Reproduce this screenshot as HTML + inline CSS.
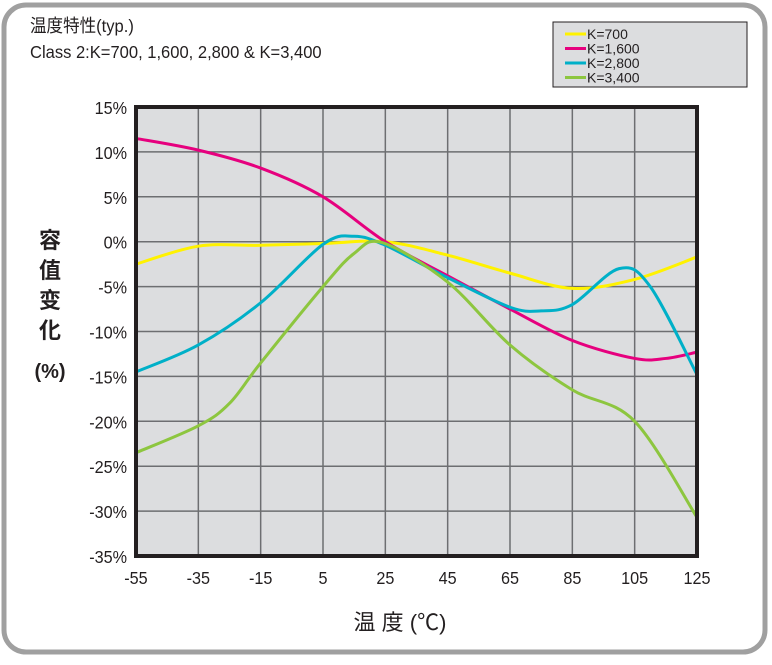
<!DOCTYPE html>
<html><head><meta charset="utf-8"><style>
body{margin:0;background:#fff;width:772px;height:660px;overflow:hidden;font-family:"Liberation Sans","Noto Sans CJK JP",sans-serif;}
</style></head><body>
<svg width="772" height="660" xmlns="http://www.w3.org/2000/svg" id="chart">
<rect x="4" y="5" width="761" height="647" rx="22" fill="#fff" stroke="#a0a0a0" stroke-width="5"/>
<text x="30" y="32" font-size="18" fill="#231f20" transform="translate(30,0) scale(0.92,1) translate(-30,0)">温度特性(typ.)</text>
<text x="30" y="58" font-size="18" fill="#231f20" transform="translate(30,0) scale(0.92,1) translate(-30,0)">Class 2:K=700, 1,600,  2,800 &amp; K=3,400</text>
<rect x="136" y="107" width="561" height="449" fill="#dcdddf"/>
<g id="grid"></g>
<g id="series"></g>
<rect x="136" y="107" width="561" height="449" fill="none" stroke="#231f20" stroke-width="4"/>
<g id="yticks"></g>
<g id="xticks"></g>
<g font-size="22" font-weight="bold" fill="#231f20" text-anchor="middle">
<text x="50" y="248">容</text><text x="50" y="278">值</text><text x="50" y="308">变</text><text x="50" y="338">化</text><text x="50" y="378" font-size="20">(%)</text>
</g>
<text x="400" y="630" font-size="22" text-anchor="middle" fill="#231f20">温 度 (℃)</text>
<g>
<rect x="553" y="22" width="194" height="65" fill="#dcdddf" stroke="#231f20" stroke-width="1"/>
<g id="legend-items"></g>
</g>
</svg>
<script>
const xTicks=[-55,-35,-15,5,25,45,65,85,105,125];
const yTicks=[15,10,5,0,-5,-10,-15,-20,-25,-30,-35];
const seriesNames=["K=700","K=1,600","K=2,800","K=3,400"];
const seriesColors=["#fff200","#e6007e","#00b0c8","#8dc63f"];
const k700T=[-55,-35,-15,5,25,45,65,85,105,125];
const k700V=[-2.5,-0.5,-0.4,-0.2,0,-1.5,-3.5,-5.2,-4.2,-1.7];
const k1600T=[-55,-35,-15,5,25,45,65,85,105,115,125];
const k1600V=[11.5,10.2,8.2,5,0,-3.8,-7.5,-11,-13,-13,-12.3];
const k2800T=[-55,-35,-15,5,15,25,45,65,75,85,100,110,125];
const k2800V=[-14.5,-11.5,-6.8,-0.3,0.6,-0.4,-4,-7.3,-7.7,-7,-3,-5,-14.8];
const k3400T=[-55,-35,-25,-15,5,15,24,45,65,85,105,125];
const k3400V=[-23.5,-20.5,-18,-13.5,-5,-1.3,-0.1,-4.5,-11.5,-16.5,-20,-30.7];
const seriesT=[k700T,k1600T,k2800T,k3400T];
const seriesV=[k700V,k1600V,k2800V,k3400V];
const X0=136,X1=697,Y0=107,Y1=556;
const xs=t=>X0+(t+55)/180*(X1-X0);
const ys=v=>Y0+(15-v)/50*(Y1-Y0);
const NS="http://www.w3.org/2000/svg";
const mk=(tag,attrs,parent)=>{const e=document.createElementNS(NS,tag);for(const k in attrs)e.setAttribute(k,attrs[k]);parent.appendChild(e);return e;};
const grid=document.getElementById('grid');
xTicks.forEach(t=>{const l=mk('line',{x1:xs(t),x2:xs(t),y1:Y0,y2:Y1,stroke:'#6d6e71','stroke-width':1.5},grid);

});
yTicks.forEach(v=>{const l=mk('line',{x1:X0,x2:X1,y1:ys(v),y2:ys(v),stroke:'#6d6e71','stroke-width':1.5},grid);

});
const yt=document.getElementById('yticks');
yTicks.forEach(v=>{const t=mk('text',{x:127,y:ys(v)+7,'font-size':18,'text-anchor':'end',fill:'#231f20',transform:'translate(127,0) scale(0.9,1) translate(-127,0)'},yt);t.textContent=v+'%';

});
const xt=document.getElementById('xticks');
xTicks.forEach(v=>{const t=mk('text',{x:xs(v),y:584,'font-size':18,'text-anchor':'middle',fill:'#231f20',transform:'translate('+xs(v)+',0) scale(0.9,1) translate('+(-xs(v))+',0)'},xt);t.textContent=v;

});
function smooth(p){let d='M'+p[0][0]+','+p[0][1];for(let i=0;i<p.length-1;i++){const a=p[i-1]||p[i],b=p[i],c=p[i+1],e=p[i+2]||c;
d+=' C'+(b[0]+(c[0]-a[0])/6)+','+(b[1]+(c[1]-a[1])/6)+' '+(c[0]-(e[0]-b[0])/6)+','+(c[1]-(e[1]-b[1])/6)+' '+c[0]+','+c[1];}return d;}
const sg=document.getElementById('series');
const li=document.getElementById('legend-items');
seriesNames.forEach((n,i)=>{
const pts=seriesT[i].map((t,j)=>[xs(t),ys(seriesV[i][j])]);
const p=mk('path',{d:smooth(pts),fill:'none',stroke:seriesColors[i],'stroke-width':3},sg);


const yy=34+i*14.5;
const l=mk('line',{x1:565,x2:586,y1:yy,y2:yy,stroke:seriesColors[i],'stroke-width':3},li);


const t=mk('text',{x:587,y:yy+5,'font-size':14,fill:'#231f20'},li);t.textContent=n;


});
</script>
</body></html>
